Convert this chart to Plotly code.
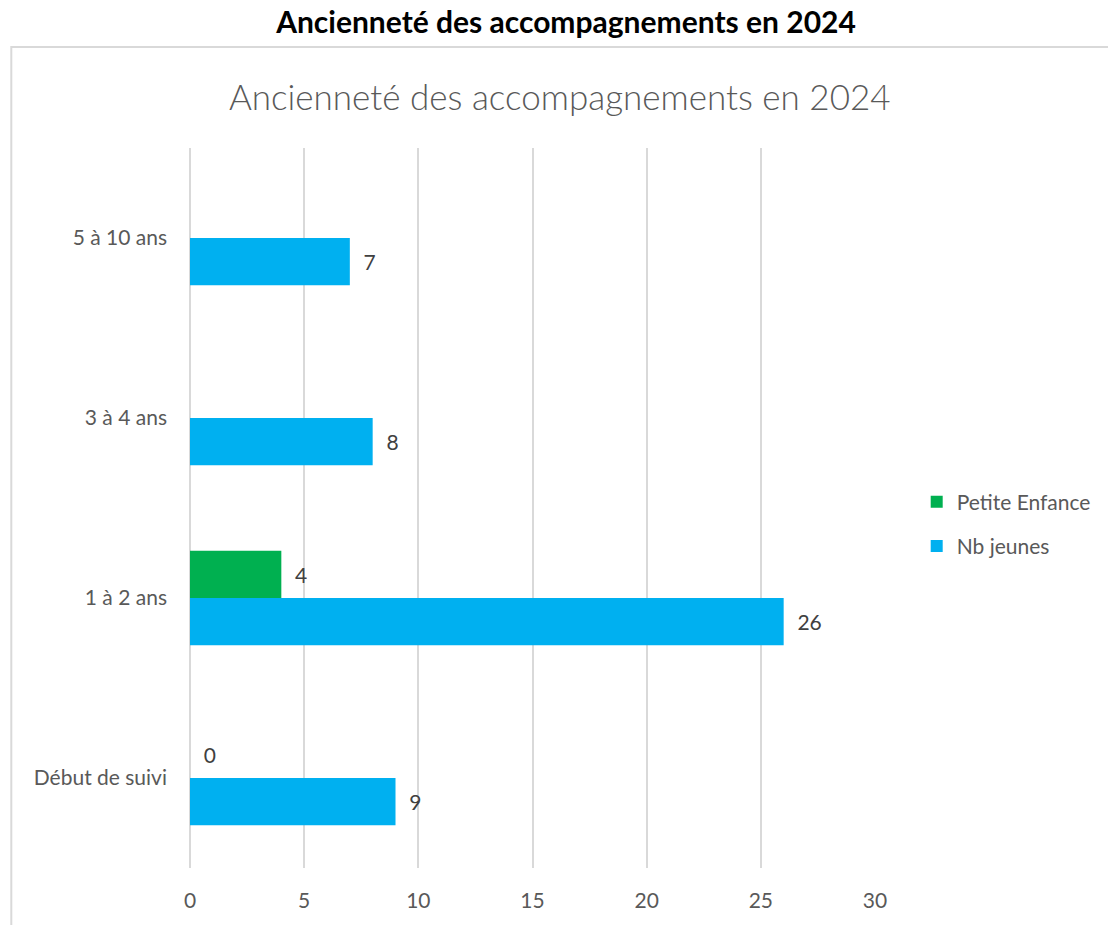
import plotly.graph_objects as go

categories = ["Début de suivi", "1 à 2 ans", "3 à 4 ans", "5 à 10 ans"]
petite_enfance = [0, 4, None, None]
nb_jeunes = [9, 26, 8, 7]
x_ticks = [0, 5, 10, 15, 20, 25, 30]

W, H = 1108, 925
L, R, T, B = 190, 228, 148, 57
pw, ph = W - L - R, H - T - B

def px_x(p):
    return (p - L) / pw

def px_y(p):
    return (H - B - p) / ph

GRAY = "#595959"
FONT = "Lato, Carlito, Calibri, sans-serif"

fig = go.Figure()
fig.add_trace(go.Bar(
    y=categories, x=nb_jeunes, name="Nb jeunes", orientation="h",
    marker=dict(color="#00B0F0", line=dict(color="#00B0F0", width=0)),
    textposition="outside",
    texttemplate="  %{x}",
    textfont=dict(size=21, color="#404040", family=FONT),
    cliponaxis=False, legendrank=2, legendgroup="b",
))
fig.add_trace(go.Bar(
    y=categories, x=petite_enfance, name="Petite Enfance", orientation="h",
    marker=dict(color="#00B050", line=dict(color="#00B050", width=0)),
    textposition="outside",
    texttemplate="  %{x}",
    textfont=dict(size=21, color="#404040", family=FONT),
    cliponaxis=False, legendrank=1, legendgroup="a",
))

fig.update_layout(
    width=W, height=H,
    margin=dict(l=L, r=R, t=T, b=B),
    paper_bgcolor="white", plot_bgcolor="white",
    barmode="group", bargap=0.475, bargroupgap=0,
    font=dict(family=FONT, color=GRAY, size=20),
    title=dict(text="<b>Ancienneté des accompagnements en 2024</b>",
               x=566 / W, xref="container", xanchor="center",
               y=1 - 22 / H, yref="container", yanchor="middle",
               font=dict(size=30, color="black", family=FONT)),
    xaxis=dict(range=[0, 30], tickvals=x_ticks, showgrid=True,
               gridcolor="#d9d9d9", gridwidth=2, zeroline=True,
               zerolinecolor="#d9d9d9", zerolinewidth=2, showline=False,
               ticks="", ticklabelstandoff=18,
               tickfont=dict(size=21, color=GRAY)),
    yaxis=dict(categoryorder="array", categoryarray=categories,
               showgrid=False, zeroline=False, showline=False, ticks="",
               ticklabelstandoff=22, tickfont=dict(size=21, color=GRAY)),
    legend=dict(x=px_x(922), y=px_y(524), xanchor="left", yanchor="middle",
                traceorder="grouped", tracegroupgap=14,
                font=dict(size=21, color=GRAY), itemwidth=30),
    shapes=[dict(type="rect", xref="paper", yref="paper",
                 x0=px_x(10), x1=px_x(1160), y0=px_y(47), y1=px_y(960),
                 line=dict(color="#d9d9d9", width=2), layer="below")],
    annotations=[dict(text="Ancienneté des accompagnements en 2024",
                      xref="paper", yref="paper", x=px_x(563), y=px_y(96),
                      xanchor="center", yanchor="middle", showarrow=False,
                      font=dict(size=35, color=GRAY, family=FONT, weight=300))],
)

fig.write_html("out.html", config={"displayModeBar": False},
               post_script="document.body.style.margin='0';document.body.style.overflow='hidden';")
